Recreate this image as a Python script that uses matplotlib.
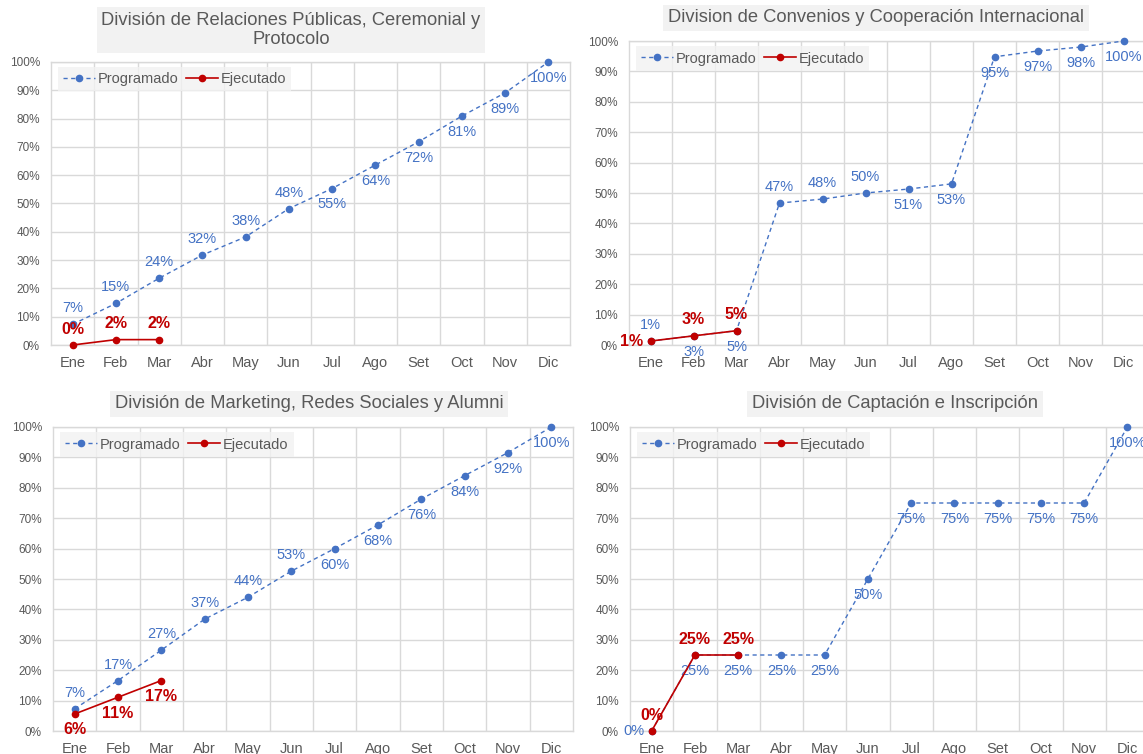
import numpy as np
import matplotlib.pyplot as plt
from matplotlib.ticker import PercentFormatter, MultipleLocator

plt.rcParams['font.family'] = ['Liberation Sans', 'DejaVu Sans']

meses = ['Ene', 'Feb', 'Mar', 'Abr', 'May', 'Jun', 'Jul', 'Ago', 'Set', 'Oct', 'Nov', 'Dic']

titulo1 = 'División de Relaciones Públicas, Ceremonial y\nProtocolo'
prog1 = [0.073, 0.147, 0.236, 0.318, 0.382, 0.482, 0.553, 0.636, 0.718, 0.809, 0.891, 1.0]
ejec1 = [0.0, 0.019, 0.019]

titulo2 = 'Division de Convenios y Cooperación Internacional'
prog2 = [0.013, 0.03, 0.047, 0.467, 0.48, 0.50, 0.513, 0.53, 0.948, 0.967, 0.98, 1.0]
ejec2 = [0.013, 0.03, 0.047]

titulo3 = 'División de Marketing, Redes Sociales y Alumni'
prog3 = [0.073, 0.166, 0.266, 0.368, 0.44, 0.526, 0.60, 0.678, 0.763, 0.84, 0.916, 1.0]
ejec3 = [0.056, 0.111, 0.166]

titulo4 = 'División de Captación e Inscripción'
prog4 = [0.0, 0.25, 0.25, 0.25, 0.25, 0.5, 0.75, 0.75, 0.75, 0.75, 0.75, 1.0]
ejec4 = [0.0, 0.25, 0.25]

# where each data label goes: a = above, b = below, l = left
pos1 = ('aaaaaabbbbbb', 'aaa')
pos2 = ('abbaaabbbbbb', 'laa')
pos3 = ('aaaaaabbbbbb', 'bbb')
pos4 = ('lbbbbbbbbbbb', 'aaa')

AZUL = '#4472C4'
ROJO = '#C00000'
GRIS = '#595959'
GRID = '#D9D9D9'

W, H = 1143, 754
fig = plt.figure(figsize=(W / 100, H / 100), dpi=100)


def addAxes(left, top, right, bottom):
    return fig.add_axes([left / W, 1 - bottom / H, (right - left) / W, (bottom - top) / H])


def etiqueta(ax, x, y, texto, donde, color, bold):
    if donde == 'a':
        off, ha = (0, 11.5), 'center'
    elif donde == 'b':
        off, ha = (0, -11.5), 'center'
    else:
        off, ha = (-5, 0), 'right'
    ax.annotate(texto, (x, y), xytext=off, textcoords='offset points', ha=ha, va='center',
                color=color, fontsize=11.5 if bold else 10.5,
                fontweight='bold' if bold else 'normal', annotation_clip=False)


def panel(ax, prog, ejec, pos):
    x = np.arange(len(meses))
    ax.plot(x, prog, color=AZUL, ls=(0, (3, 2.5)), lw=1, marker='o', ms=4.5,
            label='Programado', clip_on=False, zorder=3)
    xe = np.arange(len(ejec))
    ax.plot(xe, ejec, color=ROJO, ls='-', lw=1.2, marker='o', ms=4.5,
            label='Ejecutado', clip_on=False, zorder=4)
    for i, v in enumerate(prog):
        etiqueta(ax, i, v, f'{v:.0%}', pos[0][i], AZUL, False)
    for i, v in enumerate(ejec):
        etiqueta(ax, i, v, f'{v:.0%}', pos[1][i], ROJO, True)

    ax.set_xlim(-0.5, len(meses) - 0.5)
    ax.set_ylim(0, 1)
    ax.set_xticks(x)
    ax.set_xticklabels(meses)
    ax.set_xticks(np.arange(0.5, len(meses) - 1, 1), minor=True)
    ax.yaxis.set_major_locator(MultipleLocator(0.1))
    ax.yaxis.set_major_formatter(PercentFormatter(1.0, decimals=0))
    # month names sit on a common baseline, like Excel does
    ax.tick_params(axis='x', which='both', length=0, labelsize=10.5, labelcolor=GRIS, pad=15.5)
    for t in ax.get_xticklabels():
        t.set_verticalalignment('baseline')
    ax.tick_params(axis='y', length=0, labelsize=8.5, labelcolor=GRIS, pad=8)
    ax.grid(True, axis='y', color=GRID, lw=1)
    ax.grid(True, axis='x', which='minor', color=GRID, lw=1)
    ax.set_axisbelow(True)
    for s in ax.spines.values():
        s.set_color(GRID)
        s.set_linewidth(1)

    leg = ax.legend(loc='upper left', bbox_to_anchor=(0.013, 0.982), ncol=2, fontsize=10.5,
                    frameon=True, fancybox=False, borderaxespad=0, handlelength=2.2,
                    handletextpad=0.2, columnspacing=0.5, borderpad=0.35)
    leg.get_frame().set_facecolor('#F2F2F2')
    leg.get_frame().set_edgecolor('none')
    for t in leg.get_texts():
        t.set_color(GRIS)


def titulo(x, y, texto):
    fig.text(x / W, 1 - y / H, texto, ha='center', va='center', fontsize=13.2, color=GRIS,
             linespacing=1.2,
             bbox=dict(boxstyle='square,pad=0.25', facecolor='#F2F2F2', edgecolor='none'))


ax1 = addAxes(51, 62, 570, 345)
panel(ax1, prog1, ejec1, pos1)
titulo(291, 30, titulo1)

ax2 = addAxes(629, 41, 1145, 345)
panel(ax2, prog2, ejec2, pos2)
titulo(876, 18, titulo2)

ax3 = addAxes(53, 427, 573, 731)
panel(ax3, prog3, ejec3, pos3)
titulo(309, 404, titulo3)

ax4 = addAxes(630, 427, 1149, 731)
panel(ax4, prog4, ejec4, pos4)
titulo(895, 404, titulo4)

fig.savefig('out.png', dpi=100)
